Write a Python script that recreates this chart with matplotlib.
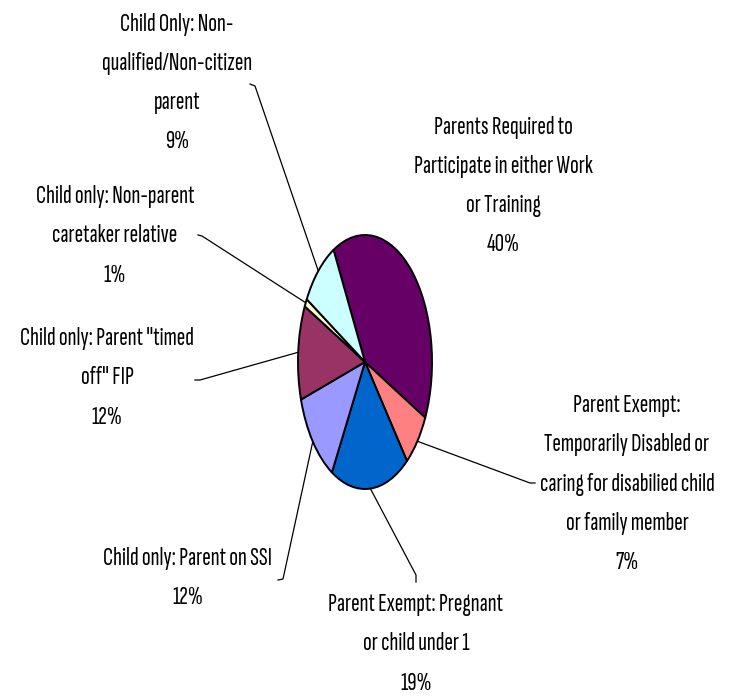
import matplotlib
matplotlib.use("Agg")
import matplotlib.pyplot as plt
import numpy as np

# slices in clockwise order, starting with the big purple one
names = [
    "Parents Required to\nParticipate in either Work\nor Training",
    "Parent Exempt:\nTemporarily Disabled or\ncaring for disabilied child\nor family member",
    "Parent Exempt: Pregnant\nor child under 1",
    "Child only: Parent on SSI",
    "Child only: Parent \"timed\noff\" FIP",
    "Child only: Non-parent\ncaretaker relative",
    "Child Only: Non-\nqualified/Non-citizen\nparent",
]
values = [40, 7, 19, 12, 12, 1, 9]
colors = ["#660066", "#FF8080", "#0066CC", "#9999FF", "#993366", "#FFFFCC", "#CCFFFF"]

# label centres (pixels from top-left) and leader line elbows
label_xy = [(503, 186), (627, 484), (416, 644), (188, 578), (107, 378), (115, 236), (177, 83)]
elbows = [None,
          [(535, 483), (530, 483)],
          [(416, 582), (416, 575)],
          [(278, 580), (283, 579)],
          [(195, 380), (200, 380)],
          [(198, 235), (202, 236)],
          [(250, 84), (255, 86)]]

W, H = 729, 696
fig = plt.figure(figsize=(W / 100, H / 100), dpi=100)

# pie is stretched into a tall ellipse
cx, cy, rx, ry = 365, 362, 67, 127
ax = fig.add_axes([(cx - rx) / W, (H - cy - ry) / H, 2 * rx / W, 2 * ry / H])
wedges, _ = ax.pie(values, colors=colors, startangle=118, counterclock=False,
                   wedgeprops=dict(edgecolor="black", linewidth=1.4))
ax.set_aspect("auto")
ax.set_xlim(-1, 1)
ax.set_ylim(-1, 1)
ax.axis("off")

over = fig.add_axes([0, 0, 1, 1], zorder=-1)
over.set_xlim(0, W)
over.set_ylim(H, 0)
over.axis("off")

font = ["Sofia Sans Extra Condensed", "Roboto Condensed", "DejaVu Sans"]
for i, w in enumerate(wedges):
    txt = names[i] + "\n" + f"{values[i]}%"
    x, y = label_xy[i]
    over.text(x, y, txt, ha="center", va="center", fontsize=18.5,
              family=font, linespacing=1.9, color="black")
    if elbows[i] is None:
        continue
    mid = np.deg2rad((w.theta1 + w.theta2) / 2)
    disp = ax.transData.transform((np.cos(mid), np.sin(mid)))
    px, py = over.transData.inverted().transform(disp)
    xs = [elbows[i][0][0], elbows[i][1][0], px]
    ys = [elbows[i][0][1], elbows[i][1][1], py]
    over.plot(xs, ys, color="black", linewidth=0.9)

fig.savefig("out.png", dpi=100, facecolor="white")
